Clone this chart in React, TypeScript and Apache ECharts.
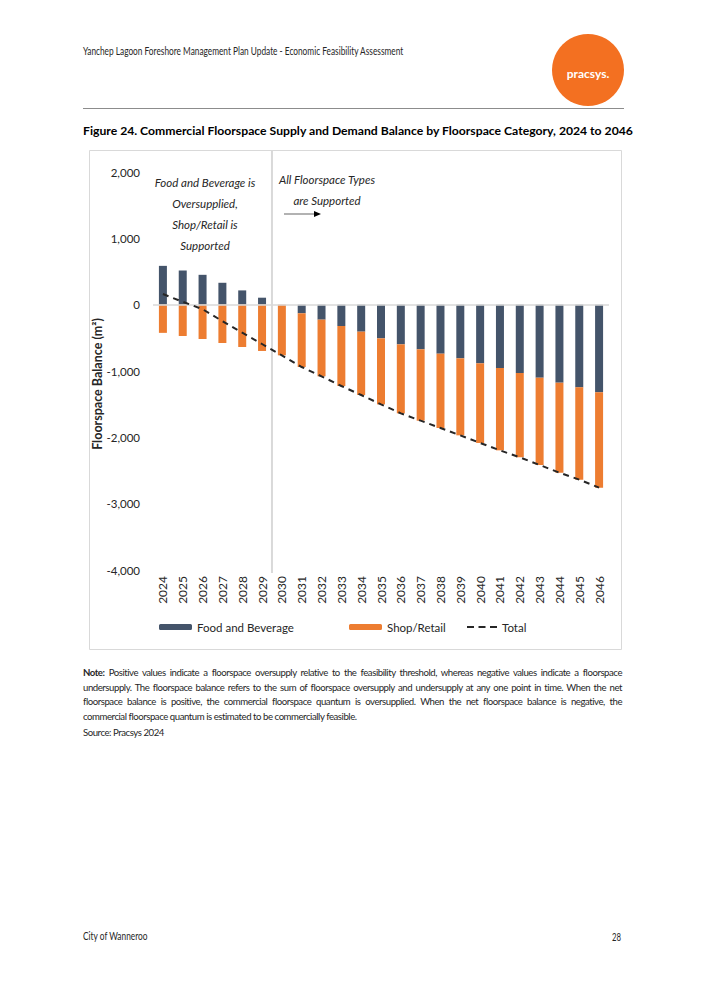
import React, { useEffect, useRef } from "react";
import * as echarts from "echarts";

const years = ["2024","2025","2026","2027","2028","2029","2030","2031","2032","2033","2034","2035","2036","2037","2038","2039","2040","2041","2042","2043","2044","2045","2046"];
const foodBeverage = [585, 515, 450, 330, 215, 105, 0, -130, -226, -322, -407, -508, -598, -673, -739, -809, -884, -955, -1030, -1101, -1176, -1246, -1322];
const shopRetail = [-425, -472, -518, -578, -638, -698, -764, -810, -854, -904, -955, -995, -1040, -1076, -1120, -1161, -1201, -1241, -1272, -1316, -1357, -1392, -1437];
const totalBalance = [160, 43, -68, -248, -423, -593, -764, -940, -1080, -1226, -1362, -1503, -1638, -1749, -1859, -1970, -2085, -2196, -2302, -2417, -2533, -2638, -2759];
const yMin = -4000;
const yMax = 2000;
const yInterval = 1000;

const headerText = "Yanchep Lagoon Foreshore Management Plan Update - Economic Feasibility Assessment";
const figureTitle = "Figure 24. Commercial Floorspace Supply and Demand Balance by Floorspace Category, 2024 to 2046";
const yAxisTitle = "Floorspace Balance (m²)";
const leftNote = ["Food and Beverage is", "Oversupplied,", "Shop/Retail is", "Supported"];
const rightNote = ["All Floorspace Types", "are Supported"];
const noteLines = [
  "Positive values indicate a floorspace oversupply relative to the feasibility threshold, whereas negative values indicate a floorspace",
  "undersupply.  The floorspace balance refers to the sum of floorspace oversupply and undersupply at any one point in time. When the net",
  "floorspace balance is positive, the commercial floorspace quantum is oversupplied. When the net floorspace balance is negative, the",
  "commercial floorspace quantum is estimated to be commercially feasible.",
];

const FONT = "Lato, 'Noto Sans', sans-serif";
const NAVY = "#44546A";
const ORANGE = "#ED7D31";
const DASH_ICON = "path://M0,0h7v2h-7zM11.5,0h7v2h-7zM23,0h7v2h-7z";

function measure(text: string, font: string): number {
  const t = new echarts.graphic.Text({ style: { text, font } });
  return t.getBoundingRect().width;
}

export default function App() {
  const ref = useRef<HTMLDivElement>(null);
  useEffect(() => {
    if (!ref.current) return;
    const chart = echarts.init(ref.current, undefined, { renderer: "svg" });
    const legendCommon = {
      top: 616,
      itemWidth: 33,
      itemHeight: 6,
      textStyle: { fontFamily: FONT, fontSize: 11.5, color: "#262626" },
      selectedMode: false,
    };
    chart.setOption({
      animation: false,
      backgroundColor: "#ffffff",
      grid: { left: 153, right: 96, top: 172, bottom: 428, containLabel: false },
      legend: [
        { ...legendCommon, left: 154, data: ["Food and Beverage"] },
        { ...legendCommon, left: 344, data: ["Shop/Retail"] },
        { ...legendCommon, left: 462, itemWidth: 30, itemHeight: 2, data: [{ name: "Total", icon: DASH_ICON }] },
      ],
      xAxis: {
        type: "category",
        data: years,
        axisLine: { show: false },
        axisTick: { show: false },
        axisLabel: { rotate: 90, margin: 6, fontFamily: FONT, fontSize: 12, color: "#262626" },
      },
      yAxis: {
        type: "value",
        min: yMin,
        max: yMax,
        interval: yInterval,
        axisLine: { show: false },
        axisTick: { show: false },
        splitLine: { show: false },
        axisLabel: {
          margin: 13,
          fontFamily: FONT,
          fontSize: 11.5,
          color: "#262626",
          formatter: (v: number) => v.toLocaleString("en-US"),
        },
      },
      series: [
        {
          name: "Food and Beverage",
          type: "bar",
          stack: "balance",
          data: foodBeverage,
          barWidth: 8,
          itemStyle: { color: NAVY },
          markLine: {
            silent: true,
            symbol: "none",
            label: { show: false },
            lineStyle: { color: "#d9d9d9", type: "solid", width: 1.5 },
            data: [{ yAxis: 0 }],
          },
        },
        {
          name: "Shop/Retail",
          type: "bar",
          stack: "balance",
          data: shopRetail,
          barWidth: 8,
          itemStyle: { color: ORANGE },
        },
        {
          name: "Total",
          type: "line",
          data: totalBalance,
          symbol: "none",
          lineStyle: { color: "#262626", width: 2, type: [6, 5] },
          itemStyle: { color: "#262626" },
          z: 5,
        },
      ],
    });

    const xa = chart.convertToPixel({ xAxisIndex: 0 }, "2029") as number;
    const xb = chart.convertToPixel({ xAxisIndex: 0 }, "2030") as number;
    const sepX = (xa + xb) / 2;

    const headerFont = `11px ${FONT}`;
    const headerScale = 321 / measure(headerText, headerFont);
    const footerScale = 65 / measure("City of Wanneroo", headerFont);
    const pageScale = 9 / measure("28", headerFont);

    const leftCenter = 205;
    const rightCenter = 327;
    const graphics: any[] = [
      { type: "text", x: 83, y: 50, scaleX: headerScale, style: { text: headerText, font: headerFont, fill: "#262626", verticalAlign: "middle" } },
      { type: "circle", shape: { cx: 588, cy: 70, r: 36 }, style: { fill: "#F37021" } },
      { type: "text", x: 588, y: 73, style: { text: "pracsys.", font: `bold 12px ${FONT}`, fill: "#ffffff", align: "center", verticalAlign: "middle" } },
      { type: "line", shape: { x1: 83, y1: 108.5, x2: 624, y2: 108.5 }, style: { stroke: "#8c8c8c", lineWidth: 1.2 } },
      { type: "text", left: 83, top: 124, style: { text: figureTitle, font: `bold 12.2px ${FONT}`, fill: "#000000" } },
      { type: "rect", shape: { x: 89.5, y: 150.5, width: 532, height: 499 }, style: { fill: "none", stroke: "#d9d9d9", lineWidth: 1 } },
      { type: "line", shape: { x1: sepX, y1: 151, x2: sepX, y2: 573 }, style: { stroke: "#d9d9d9", lineWidth: 2 }, z: 1 },
      { type: "text", x: 97, y: 384, rotation: Math.PI / 2, style: { text: yAxisTitle, font: `bold 12.5px ${FONT}`, fill: "#262626", align: "center", verticalAlign: "middle" } },
      ...leftNote.map((t, i) => ({
        type: "text", x: leftCenter, y: 182 + i * 21.3,
        style: { text: t, font: `italic 11.5px ${FONT}`, fill: "#262626", align: "center", verticalAlign: "middle" },
      })),
      ...rightNote.map((t, i) => ({
        type: "text", x: rightCenter, y: 179 + i * 21.5,
        style: { text: t, font: `italic 11.5px ${FONT}`, fill: "#262626", align: "center", verticalAlign: "middle" },
      })),
      { type: "line", shape: { x1: 284, y1: 214, x2: 316, y2: 214 }, style: { stroke: "#7f7f7f", lineWidth: 1.2 } },
      { type: "polygon", shape: { points: [[314, 211], [321, 214], [314, 217]] }, style: { fill: "#000000" } },
      { type: "text", x: 83, y: 935, scaleX: footerScale, style: { text: "City of Wanneroo", font: headerFont, fill: "#262626", verticalAlign: "middle" } },
      { type: "text", x: 612, y: 937, scaleX: pageScale, style: { text: "28", font: headerFont, fill: "#262626", verticalAlign: "middle" } },
    ];
    chart.setOption({ graphic: graphics });
    return () => chart.dispose();
  }, []);

  const lineStyle: React.CSSProperties = {
    textAlign: "justify",
    textAlignLast: "justify",
    whiteSpace: "nowrap",
    height: 14.6,
    lineHeight: "14.6px",
  };
  return (
    <div style={{ position: "absolute", left: 0, top: 0, width: 705, height: 998, background: "#fff" }}>
      <div ref={ref} style={{ position: "absolute", left: 0, top: 0, width: 705, height: 998 }} />
      <div
        style={{
          position: "absolute",
          left: 83,
          top: 666,
          width: 539,
          fontFamily: FONT,
          fontSize: 9.6,
          letterSpacing: "-0.45px",
          color: "#262626",
        }}
      >
        <div style={lineStyle}>
          <b>Note:</b> {noteLines[0]}
        </div>
        <div style={lineStyle}>{noteLines[1]}</div>
        <div style={lineStyle}>{noteLines[2]}</div>
        <div style={{ ...lineStyle, textAlignLast: "left" }}>{noteLines[3]}</div>
        <div style={{ marginTop: 2, lineHeight: "14.6px" }}>Source: Pracsys 2024</div>
      </div>
    </div>
  );
}
